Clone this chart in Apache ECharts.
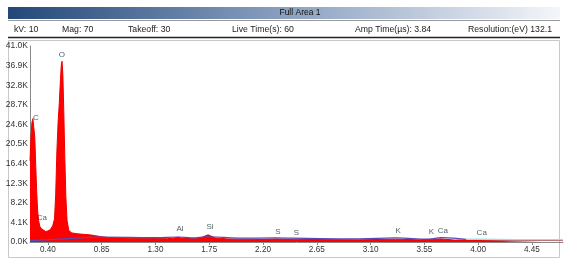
<!DOCTYPE html>
<html>
<head>
<meta charset="utf-8">
<script src="https://cdn.jsdelivr.net/npm/echarts@6/dist/echarts.min.js"></script>
<style>
  html, body { margin: 0; padding: 0; background: #fff; }
  #chart { width: 564px; height: 264px; }
</style>
</head>
<body>
<div id="chart"></div>
<script>
// header values
const headerTitle = 'Full Area 1';
const headerItems = ['kV: 10', 'Mag: 70', 'Takeoff: 30', 'Live Time(s): 60', 'Amp Time(\u00b5s): 3.84', 'Resolution:(eV) 132.1'];

// spectrum (keV, counts)
const energy = [0.250, 0.258, 0.266, 0.274, 0.282, 0.290, 0.298, 0.306, 0.314, 0.322, 0.332, 0.345, 0.360, 0.380, 0.400, 0.420, 0.440, 0.455,
  0.465, 0.475, 0.485, 0.495, 0.505, 0.512, 0.518, 0.525, 0.533, 0.541, 0.550, 0.560, 0.575, 0.600, 0.650, 0.700, 0.750, 0.800,
  0.850, 0.900, 1.000, 1.100, 1.200, 1.280, 1.320, 1.400, 1.450, 1.490, 1.530, 1.620, 1.680, 1.740, 1.800, 1.900, 2.000, 2.200,
  2.310, 2.400, 2.460, 2.580, 2.640, 2.700, 3.000, 3.310, 3.500, 3.690, 3.800, 4.010, 4.200, 4.710];
const counts = [17000, 22000, 25000, 25800, 25500, 22000, 16000, 10500, 6500, 4500, 3300, 2800, 2400, 2200, 2300, 2600, 3400, 4800,
  10000, 19000, 25000, 29000, 34000, 37000, 37800, 35000, 27000, 18000, 9500, 4500, 2400, 1900, 1700, 1600, 1500, 1300,
  1100, 950, 850, 800, 750, 850, 700, 700, 800, 1000, 750, 700, 900, 1500, 850, 650, 600, 550,
  650, 550, 600, 550, 750, 500, 450, 600, 450, 650, 400, 450, 350, 300];

// background fit
const bgEnergy = [0.250, 0.500, 0.850, 1.300, 1.490, 1.600, 1.740, 2.000, 2.310, 2.460, 3.000, 3.310, 3.590, 3.690, 3.900];
const bgCounts = [300, 600, 1000, 900, 1050, 850, 1100, 800, 850, 800, 650, 850, 600, 900, 550];
const tailEnergy = [3.900, 4.010, 4.300, 4.710];
const tailCounts = [550, 550, 480, 450];

// peak markers
const peakNames = ['C', 'Ca', 'O', 'Al', 'Si', 'S', 'S', 'K', 'K', 'Ca', 'Ca'];
const peakEnergy = [0.30, 0.35, 0.517, 1.505, 1.756, 2.325, 2.48, 3.33, 3.61, 3.705, 4.03];
const peakLabelY = [26000, 5000, 39100, 2700, 3100, 2100, 1900, 2300, 2100, 2300, 1900];

// axis ticks
const xTicks = [0.40, 0.85, 1.30, 1.75, 2.20, 2.65, 3.10, 3.55, 4.00, 4.45];

const font = 'Liberation Sans, Arial, sans-serif';
const chart = echarts.init(document.getElementById('chart'));

const headerX = [14, 62, 128, 232, 355, 468];
const graphic = [
  {
    type: 'rect', shape: { x: 8, y: 7, width: 552, height: 12 },
    style: {
      fill: new echarts.graphic.LinearGradient(0, 0, 1, 0, [
        { offset: 0, color: '#234878' },
        { offset: 0.5, color: '#8aa0c0' },
        { offset: 1, color: '#f4f6fa' }
      ])
    }
  },
  { type: 'text', x: 300, y: 13, style: { text: headerTitle, font: '8.5px ' + font, fill: '#111', align: 'center', verticalAlign: 'middle' } },
  { type: 'line', shape: { x1: 8, y1: 20.5, x2: 560, y2: 20.5 }, style: { stroke: '#999', lineWidth: 1 } },
  { type: 'line', shape: { x1: 8, y1: 37.5, x2: 560, y2: 37.5 }, style: { stroke: '#222', lineWidth: 1.5 } },
  { type: 'rect', shape: { x: 8.5, y: 40.5, width: 551, height: 217 }, style: { fill: 'none', stroke: '#c8c8c8', lineWidth: 1 } }
];
headerItems.forEach((t, i) => {
  graphic.push({ type: 'text', x: headerX[i], y: 30, style: { text: t, font: '8.7px ' + font, fill: '#222', verticalAlign: 'middle' } });
});

chart.setOption({
  animation: false,
  graphic: graphic,
  grid: { left: 30, right: 1, top: 46, bottom: 22 },
  xAxis: {
    type: 'value', min: 0.25, max: 4.71,
    axisLine: { lineStyle: { color: '#888' } },
    axisTick: { customValues: xTicks, length: 3, lineStyle: { color: '#888' } },
    axisLabel: { customValues: xTicks, formatter: v => v.toFixed(2), color: '#333', fontSize: 8.2, fontFamily: font, margin: 4 },
    splitLine: { show: false }
  },
  yAxis: {
    type: 'value', min: 0, max: 41000, interval: 4100,
    axisLine: { show: true, lineStyle: { color: '#888' } },
    axisTick: { show: false },
    axisLabel: { formatter: v => (v / 1000).toFixed(1) + 'K', color: '#333', fontSize: 8.5, fontFamily: font, margin: 2 },
    splitLine: { show: false }
  },
  series: [
    {
      type: 'line', data: energy.map((e, i) => [e, counts[i]]),
      showSymbol: false, lineStyle: { color: '#ee0000', width: 1 },
      areaStyle: { color: '#ff0000', opacity: 1 }, z: 2
    },
    {
      type: 'line', data: bgEnergy.map((e, i) => [e, bgCounts[i]]), smooth: true,
      showSymbol: false, lineStyle: { color: '#5a4ab8', width: 1.2 }, z: 3
    },
    {
      type: 'line', data: tailEnergy.map((e, i) => [e, tailCounts[i]]), smooth: true,
      showSymbol: false, lineStyle: { color: '#8fe3ef', width: 1.5 }, z: 3
    },
    {
      type: 'scatter', symbolSize: 0, z: 4,
      data: peakNames.map((n, i) => ({ name: n, value: [peakEnergy[i], peakLabelY[i]] })),
      label: { show: true, position: 'inside', formatter: p => p.name, color: '#1a3333', fontSize: 8, fontFamily: font }
    }
  ]
});
</script>
</body>
</html>
